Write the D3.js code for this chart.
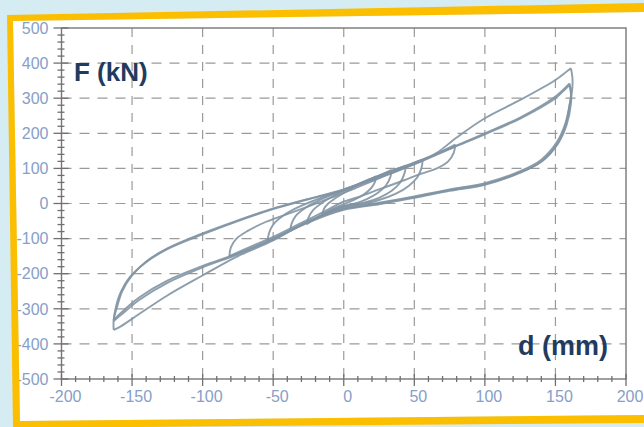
<!DOCTYPE html>
<html>
<head>
<meta charset="utf-8">
<script src="https://cdn.jsdelivr.net/npm/d3@7"></script>
<style>
  body { margin: 0; background: #d6ecf3; }
  svg { display: block; }
</style>
</head>
<body>
<div id="chart"></div>
<script>
// F-d hysteresis, scanned test record

var xTicks = [-200, -150, -100, -50, 0, 50, 100, 150, 200];
var yTicks = [-500, -400, -300, -200, -100, 0, 100, 200, 300, 400, 500];

// [d (mm), F (kN)] points
var loop20Up = [[-15,-31],[-14,-15],[-11,0],[-6,15],[0,30],[8,48],[15,62],[23,77]];
var loop20Down = [[23,77],[22,60],[19,42],[13,22],[6,8],[0,-2],[-6,-12],[-11,-22],[-15,-31]];

var loop30Up = [[-26,-60],[-25,-40],[-22,-20],[-16,0],[-8,20],[0,36],[12,58],[24,78],[34,96]];
var loop30Down = [[34,96],[33,75],[30,52],[24,30],[16,12],[8,0],[0,-7],[-10,-22],[-18,-38],[-26,-58]];

var loop40Up = [[-38,-80],[-37,-58],[-34,-35],[-27,-12],[-18,8],[-8,25],[0,38],[15,64],[30,87],[44,108]];
var loop40Down = [[44,108],[43,85],[40,60],[34,36],[25,16],[15,3],[5,-5],[0,-8],[-12,-28],[-25,-52],[-38,-78]];

var loop55Up = [[-54,-109],[-53,-85],[-50,-60],[-43,-35],[-33,-12],[-20,10],[-8,28],[0,38],[20,70],[40,102],[56,126]];
var loop55Down = [[56,126],[55,100],[52,74],[46,50],[37,28],[25,10],[12,-2],[0,-10],[-15,-32],[-30,-62],[-42,-85],[-54,-108]];

var loop80Up = [[-81,-150],[-80,-125],[-76,-100],[-68,-78],[-55,-52],[-40,-30],[-25,-8],[-10,15],[0,30],[15,55],[30,80],[50,112],[65,140],[79,168]];
var loop80Down = [[79,168],[78,145],[74,120],[66,100],[55,85],[40,62],[25,40],[10,18],[0,5],[-15,-25],[-30,-55],[-50,-95],[-70,-130],[-81,-150]];

var cycle1Up = [[0,40],[25,76],[50,116],[65,142],[80,188],[100,243],[125,295],[150,352],[158,376],[161,385]];
var cycle1Down = [[161,385],[162,360],[162,330],[160,280],[157,228],[151,175],[140,125],[125,92],[100,58],[75,40],[50,20],[25,2],[0,-14],[-25,-50],[-50,-105],[-75,-150],[-100,-205],[-125,-262],[-145,-315],[-158,-350],[-163,-360]];

var cycle2Up = [[-163,-360],[-163,-330],[-161,-300],[-157,-250],[-150,-205],[-140,-165],[-125,-128],[-100,-85],[-75,-48],[-50,-14],[-25,13],[0,40],[25,76],[50,114],[78,162],[100,200],[125,245],[150,305],[157,330],[160,342]];
var cycle2Down = [[160,342],[161,320],[161,285],[158,225],[152,172],[141,122],[126,90],[100,55],[75,38],[50,18],[25,0],[0,-16],[-25,-52],[-50,-100],[-75,-142],[-100,-178],[-125,-220],[-145,-268],[-158,-312],[-163,-332]];

var cycle3Up = [[-163,-332],[-162,-305],[-159,-262],[-152,-212],[-141,-170],[-125,-130],[-100,-88],[-75,-50],[-50,-16],[-25,12],[0,39],[25,74],[50,112],[78,160],[100,197],[125,242],[150,300],[158,330],[160,336]];
var cycle3Down = [[160,336],[161,310],[160,280],[157,220],[151,168],[140,120],[125,88],[100,53],[75,36],[50,16],[25,-2],[0,-18],[-25,-54],[-50,-102],[-75,-145],[-100,-182],[-125,-226],[-145,-275],[-158,-318],[-163,-335]];

var branches = [loop20Up, loop20Down, loop30Up, loop30Down, loop40Up, loop40Down,
    loop55Up, loop55Down, loop80Up, loop80Down,
    cycle1Up, cycle1Down, cycle2Up, cycle2Down, cycle3Up, cycle3Down];

var W = 644, H = 427;

var svg = d3.select("#chart")
    .append("svg")
    .attr("width", W)
    .attr("height", H);

// white paper inside the frame
svg.append("path")
    .attr("d", "M13,21 L650,12 L650,415 L20,421 Z")
    .attr("fill", "#ffffff");

var x = d3.scaleLinear().domain([-200, 200]).range([61.5, 626]);
var y = d3.scaleLinear().domain([-500, 500]).range([379, 28]);

// dashed grid
svg.append("g")
    .selectAll("line")
    .data(xTicks.filter(function (d) { return d > -200 && d < 200; }))
    .enter()
    .append("line")
    .attr("x1", function (d) { return x(d); })
    .attr("x2", function (d) { return x(d); })
    .attr("y1", y(500))
    .attr("y2", y(-500))
    .attr("stroke", "#9a9a9a")
    .attr("stroke-width", 1.2)
    .attr("stroke-dasharray", "9,8");

svg.append("g")
    .selectAll("line")
    .data(yTicks.filter(function (d) { return d > -500 && d < 500; }))
    .enter()
    .append("line")
    .attr("x1", x(-200))
    .attr("x2", x(200))
    .attr("y1", function (d) { return y(d); })
    .attr("y2", function (d) { return y(d); })
    .attr("stroke", "#9a9a9a")
    .attr("stroke-width", 1.2)
    .attr("stroke-dasharray", "10,8");

// box
svg.append("rect")
    .attr("x", x(-200))
    .attr("y", y(500))
    .attr("width", x(200) - x(-200))
    .attr("height", y(-500) - y(500))
    .attr("fill", "none")
    .attr("stroke", "#777")
    .attr("stroke-width", 1.4);

// axes with minor ticks
var axisColor = "#707070";
var xMinor = d3.range(-200, 201, 10);
var yMinor = d3.range(-500, 501, 20);

svg.append("g")
    .selectAll("line")
    .data(xMinor)
    .enter()
    .append("line")
    .attr("x1", function (d) { return x(d); })
    .attr("x2", function (d) { return x(d); })
    .attr("y1", function (d) { return y(-500) - (d % 50 == 0 ? 5 : 3); })
    .attr("y2", function (d) { return y(-500) + (d % 50 == 0 ? 7 : 3); })
    .attr("stroke", axisColor)
    .attr("stroke-width", 1.3);

svg.append("g")
    .selectAll("line")
    .data(yMinor)
    .enter()
    .append("line")
    .attr("x1", function (d) { return x(-200) - (d % 100 == 0 ? 8 : 4); })
    .attr("x2", function (d) { return x(-200) + (d % 100 == 0 ? 7 : 3); })
    .attr("y1", function (d) { return y(d); })
    .attr("y2", function (d) { return y(d); })
    .attr("stroke", axisColor)
    .attr("stroke-width", 1.3);

svg.append("g")
    .selectAll("text")
    .data(xTicks)
    .enter()
    .append("text")
    .attr("x", function (d) { return x(d) + 4; })
    .attr("y", y(-500) + 23)
    .attr("text-anchor", "middle")
    .attr("font-family", "Liberation Sans, Arial, sans-serif")
    .attr("font-size", 16)
    .attr("fill", "#86a0c8")
    .text(function (d) { return d; });

svg.append("g")
    .selectAll("text")
    .data(yTicks)
    .enter()
    .append("text")
    .attr("x", x(-200) - 13)
    .attr("y", function (d) { return y(d); })
    .attr("dy", "0.36em")
    .attr("text-anchor", "end")
    .attr("font-family", "Liberation Sans, Arial, sans-serif")
    .attr("font-size", 16)
    .attr("fill", "#86a0c8")
    .text(function (d) { return d; });

// the loops
var line = d3.line()
    .x(function (d) { return x(d[0]); })
    .y(function (d) { return y(d[1]); })
    .curve(d3.curveCatmullRom.alpha(0.5));

svg.append("g")
    .selectAll("path")
    .data(branches)
    .enter()
    .append("path")
    .attr("d", line)
    .attr("fill", "none")
    .attr("stroke", "#8193a3")
    .attr("stroke-width", 1.9)
    .attr("stroke-linejoin", "round")
    .attr("stroke-opacity", 0.9);

// axis titles
svg.append("text")
    .attr("x", 74)
    .attr("y", 81)
    .attr("font-family", "Liberation Sans, Arial, sans-serif")
    .attr("font-weight", "bold")
    .attr("font-size", 26)
    .attr("fill", "#1f3b5e")
    .text("F (kN)");

svg.append("text")
    .attr("x", 518)
    .attr("y", 355)
    .attr("font-family", "Liberation Sans, Arial, sans-serif")
    .attr("font-weight", "bold")
    .attr("font-size", 27)
    .attr("fill", "#1f3b5e")
    .text("d (mm)");

// yellow frame on top
svg.append("path")
    .attr("d", "M7,15 L650,3 L650,423 L13,428 Z M13,21 L650,12 L650,415 L20,421 Z")
    .attr("fill", "#fcbf00")
    .attr("fill-rule", "evenodd");
</script>
</body>
</html>
